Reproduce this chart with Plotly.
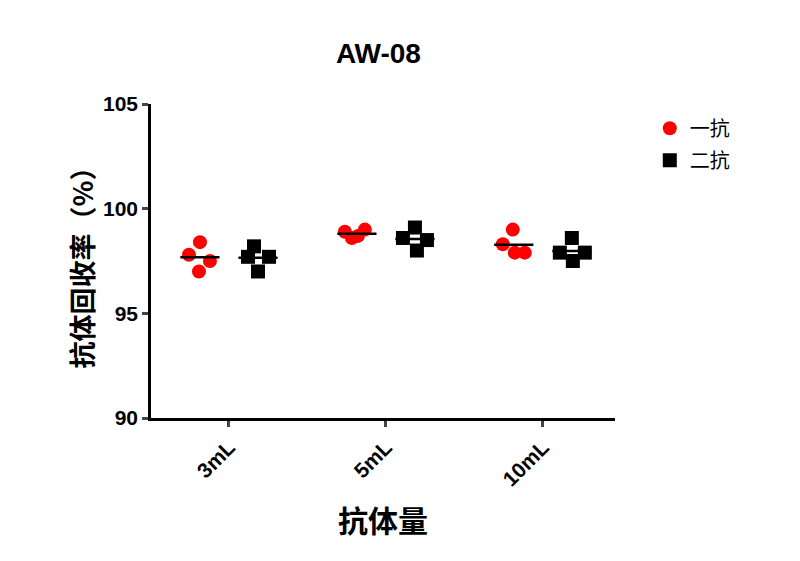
import plotly.graph_objects as go

# data
categories = ['3mL', '5mL', '10mL']
first_ab = [
    [98.4, 97.8, 97.5, 97.0],
    [98.9, 99.0, 98.6, 98.7],
    [99.0, 98.3, 97.9, 97.9],
]
second_ab = [
    [98.2, 97.7, 97.7, 97.0],
    [99.1, 98.6, 98.5, 98.0],
    [98.6, 97.9, 97.5, 97.9],
]

# horizontal scatter of points inside each group (pixels)
spread_first = [[0, -11, 10, -1], [-12, 8, -5, 1], [-1, -11, 1, 11]]
spread_second = [[-4, -10, 11, 0], [0, -12, 12, 2], [0, -12, 1, 13]]
px_per_unit = 157.0
group_shift = 0.185
half_line = 0.125

cjk = 'Noto Sans CJK SC'
latin = 'Liberation Sans, Arial'

fig = go.Figure()


def add_group(values, spread, shift, name, color, symbol):
    xs, ys = [], []
    lx, ly = [], []
    for i, vals in enumerate(values):
        c = i + shift
        for v, s in zip(vals, spread[i]):
            xs.append(c + s / px_per_unit)
            ys.append(v)
        m = sum(vals) / len(vals)
        lx += [c - half_line, c + half_line, None]
        ly += [m, m, None]
    fig.add_trace(go.Scatter(
        x=xs, y=ys, mode='markers', name=name, legendgroup=name,
        marker=dict(size=14, color=color, symbol=symbol, line=dict(width=0)),
    ))
    fig.add_trace(go.Scatter(
        x=lx, y=ly, mode='lines', showlegend=False, legendgroup=name,
        line=dict(color='black', width=2.5), hoverinfo='skip',
    ))


add_group(first_ab, spread_first, -group_shift, '一抗', '#ff0000', 'circle')
add_group(second_ab, spread_second, group_shift, '二抗', 'black', 'square')

fig.update_xaxes(
    range=[-0.497, 2.46],
    tickvals=list(range(len(categories))),
    ticktext=categories,
    tickangle=-45,
    ticks='outside', ticklen=6, tickwidth=2.5,
    showline=True, linewidth=2.5, linecolor='black',
    showgrid=False, zeroline=False, automargin=False,
    tickfont=dict(family=latin, size=21, color='black', weight='bold'),
    title=dict(text='抗体量', font=dict(family=cjk, size=30, color='black', weight='bold'),
               standoff=22),
)
fig.update_yaxes(
    range=[90, 105],
    tickvals=[90, 95, 100, 105],
    ticks='outside', ticklen=6, tickwidth=2.5,
    showline=True, linewidth=2.5, linecolor='black',
    showgrid=False, zeroline=False, automargin=False,
    tickfont=dict(family=latin, size=21, color='black', weight='bold'),
    title=dict(text='抗体回收率（%）', font=dict(family=cjk, size=27, color='black', weight='bold'),
               standoff=2),
)
fig.update_layout(
    width=800, height=561,
    template='simple_white',
    plot_bgcolor='white', paper_bgcolor='white',
    margin=dict(l=143, r=193, t=96, b=151),
    title=dict(text='AW-08', x=0.463, xanchor='center', y=0.92, yanchor='middle',
               font=dict(family=latin, size=28, color='black', weight='bold')),
    legend=dict(x=1.075, y=0.985, xanchor='left', yanchor='top',
                font=dict(family=cjk, size=20, color='black'),
                itemwidth=30, tracegroupgap=3),
)

fig.write_html('out.html')
